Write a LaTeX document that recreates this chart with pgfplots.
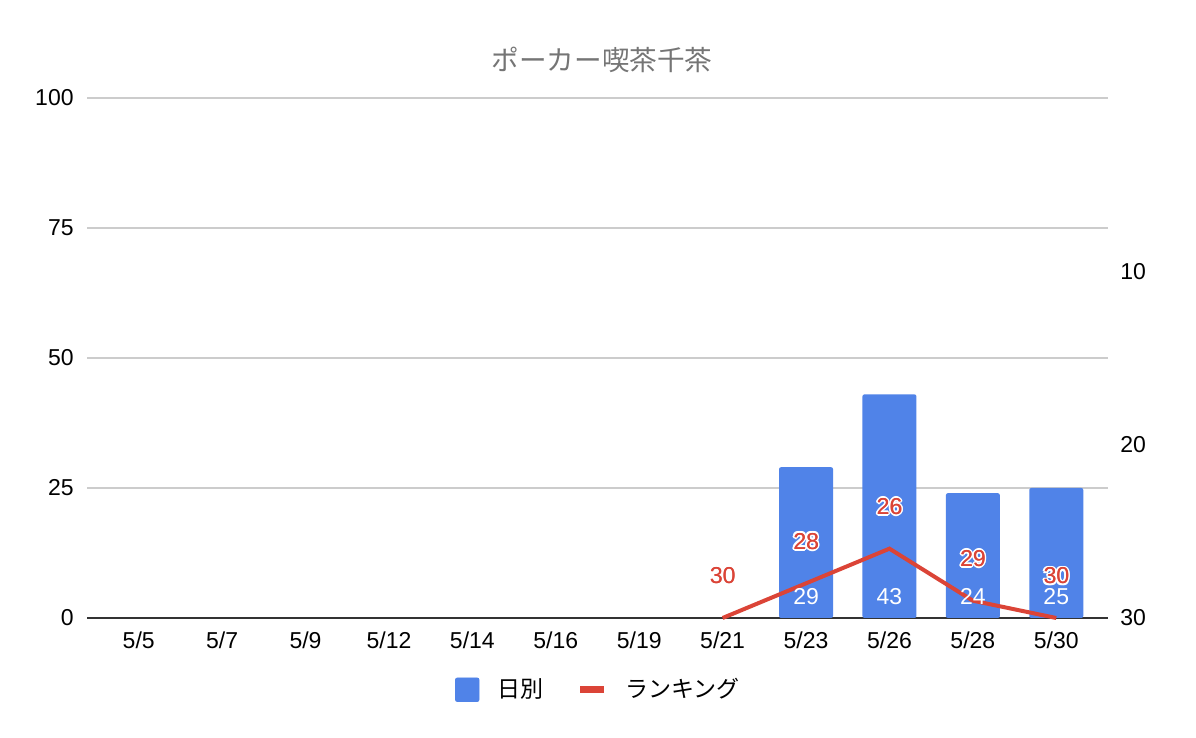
\documentclass[border=0pt]{standalone}
\usepackage{pgfplots}
\pgfplotsset{compat=1.18}
\usepackage{fontspec}
\setmainfont{Liberation Sans}
\newfontfamily\jp{Noto Sans CJK JP}
\definecolor{barblue}{RGB}{80,131,232}
\definecolor{linered}{RGB}{219,68,55}
\definecolor{gridgray}{RGB}{204,204,204}
\definecolor{titlegray}{RGB}{117,117,117}
\definecolor{baseline}{RGB}{51,51,51}
\newcommand\halo[1]{\leavevmode
 \rlap{\color{white}\hspace{0.9pt}#1}%
 \rlap{\color{white}\hspace{-0.9pt}#1}%
 \rlap{\color{white}\raisebox{0.9pt}{#1}}%
 \rlap{\color{white}\raisebox{-0.9pt}{#1}}%
 \rlap{\color{white}\hspace{0.65pt}\raisebox{0.65pt}{#1}}%
 \rlap{\color{white}\hspace{-0.65pt}\raisebox{0.65pt}{#1}}%
 \rlap{\color{white}\hspace{0.65pt}\raisebox{-0.65pt}{#1}}%
 \rlap{\color{white}\hspace{-0.65pt}\raisebox{-0.65pt}{#1}}%
 \rlap{\hspace{0.15pt}#1}%
 #1}
\newcommand\tfont{\fontsize{11.5}{13}\selectfont}
\begin{document}
\begin{tikzpicture}[x=1pt,y=1pt]
\path[use as bounding box] (0,0) rectangle (598,369);
\node[text=titlegray, font=\jp\fontsize{13.8}{16}\selectfont] at (301,339) {ポーカー喫茶千茶};
\begin{axis}[
 at={(43.5pt,60pt)}, anchor=south west,
 scale only axis, width=510.5pt, height=260pt,
 xmin=-0.62, xmax=11.62, ymin=0, ymax=100,
 xtick={0,...,11},
 xticklabels={5/5,5/7,5/9,5/12,5/14,5/16,5/19,5/21,5/23,5/26,5/28,5/30},
 ytick={0,25,50,75,100},
 ymajorgrids, grid style={gridgray, line width=0.6pt},
 axis x line*=bottom, axis y line*=left,
 y axis line style={draw=none},
 x axis line style={draw=baseline, line width=0.8pt, -},
 major tick length=0pt, tick style={draw=none},
 /pgf/number format/assume math mode=true,
 ticklabel style={font=\tfont, text=black},
 xticklabel style={anchor=center, yshift=-11pt},
 yticklabel style={anchor=east, inner sep=0pt, xshift=-6.5pt},
 clip=false,
]
\addplot[ybar, bar width=27pt, fill=barblue, draw=none, rounded corners=1pt] coordinates {(8,29) (9,43) (10,24) (11,25)};
\end{axis}
\begin{axis}[
 at={(43.5pt,60pt)}, anchor=south west,
 scale only axis, width=510.5pt, height=260pt,
 xmin=-0.62, xmax=11.62, ymin=0, ymax=30, y dir=reverse,
 axis x line=none, axis y line*=right,
 y axis line style={draw=none},
 ytick={10,20,30},
 major tick length=0pt, tick style={draw=none},
 /pgf/number format/assume math mode=true,
 ticklabel style={font=\tfont, text=black},
 yticklabel style={anchor=west, inner sep=0pt, xshift=6pt},
 clip=false,
 legend style={at={(0.5,-0.138)}, anchor=center, draw=none, fill=none,
   font=\jp\tfont, legend columns=2, inner sep=0pt,
   nodes={inner sep=0pt},
   /tikz/every odd column/.append style={column sep=9pt},
   /tikz/every even column/.append style={column sep=16.5pt}},
]
\addlegendimage{legend image code/.code={\fill[barblue, rounded corners=1pt] (0pt,-5.9pt) rectangle (11.8pt,5.9pt);}}
\addlegendentry{日別}
\addplot[linered, line width=2pt, mark=none,
 legend image code/.code={\draw[linered, line width=3.6pt] (0pt,0pt) -- (12pt,0pt);},
 nodes near coords={\halo{\pgfmathprintnumber{\pgfplotspointmeta}}},
 every node near coord/.style={text=linered, anchor=center, yshift=21pt, font=\tfont}]
 coordinates {(7,30) (8,28) (9,26) (10,29) (11,30)};
\addlegendentry{ランキング}
% bar value labels (日別), placed at the bars' base (ranking axis bottom = 30)
\addplot[draw=none, mark=none, forget plot, nodes near coords, point meta=explicit symbolic,
 every node near coord/.style={text=white, anchor=center, yshift=10.7pt, font=\tfont}]
 coordinates {(8,30)[29] (9,30)[43] (10,30)[24] (11,30)[25]};
\end{axis}
\end{tikzpicture}
\end{document}
